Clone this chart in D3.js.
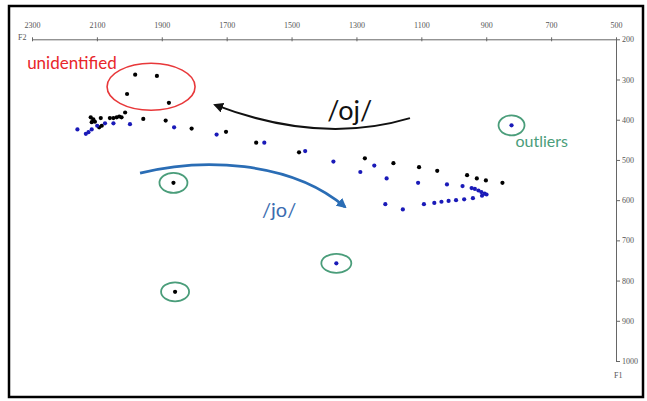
<!DOCTYPE html>
<html>
<head>
<meta charset="utf-8">
<script src="https://cdn.jsdelivr.net/npm/d3@7"></script>
<style>
  html, body { margin: 0; padding: 0; background: #fff; }
  svg { display: block; }
</style>
</head>
<body>
<svg id="chart" width="647" height="401"></svg>
<script>
// ---------- DATA ----------
const f2Ticks = [2300, 2100, 1900, 1700, 1500, 1300, 1100, 900, 700, 500];
const f1Ticks = [200, 300, 400, 500, 600, 700, 800, 900, 1000];

// /oj/ tokens (black): [F2, F1]
const ojF2 = [1982, 1915, 2007, 1878, 2119, 2111, 2088, 2116, 2106, 2085, 2093, 2060, 2049, 2039, 2031, 2024, 2013, 1957, 1888, 1808, 1702, 1609, 1477, 1274, 1186, 1107, 1051, 959, 929, 901, 850, 1864, 1859];
const ojF1 = [288, 291, 336, 358, 394, 399, 396, 406, 405, 415, 419, 396, 396, 394, 392, 394, 382, 398, 402, 422, 430, 457, 481, 496, 508, 518, 527, 538, 546, 551, 557, 557, 828];

// /jo/ tokens (blue): [F2, F1]
const joF2 = [2160, 2134, 2126, 2116, 2099, 2075, 2049, 1998, 1862, 1731, 1584, 1458, 1371, 1288, 1245, 1207, 1110, 1021, 973, 1211, 1157, 1092, 1060, 1038, 1016, 993, 968, 941, 945, 935, 924, 915, 905, 899, 913, 1362, 822];
const joF1 = [424, 435, 431, 424, 415, 409, 409, 411, 419, 437, 457, 478, 504, 530, 514, 546, 557, 561, 565, 610, 623, 610, 607, 604, 602, 600, 598, 595, 570, 572, 576, 580, 584, 586, 589, 757, 414];

// outlier tokens (circled), and the unidentified region
const outlierF2 = [1864, 1859, 1362, 822];
const outlierF1 = [557, 828, 757, 414];
const unidentifiedCenter = [1933, 318];

// annotation arrows (in F2/F1 units)
const ojArrow = [[1135, 396], [1412, 463], [1736, 363]];
const joArrow = [[1967, 533], [1782, 495], [1505, 500], [1335, 617]];

// ---------- SCALES ----------
const svg = d3.select("#chart");
const x = d3.scaleLinear().domain([2300, 500]).range([32, 616]);
const y = d3.scaleLinear().domain([200, 1000]).range([39.3, 361]);

// frame
svg.append("rect").attr("x", 9).attr("y", 6).attr("width", 634).attr("height", 391)
  .attr("fill", "#fff").attr("stroke", "#000").attr("stroke-width", 2.5);

// ---------- AXES ----------
const axisColor = "#666";
const tickFont = "'Liberation Serif', 'DejaVu Serif', serif";
const fmt = d3.format("d");

const topAxis = svg.append("g").attr("transform", `translate(0,${y(200)})`).attr("color", axisColor)
  .call(d3.axisTop(x).tickValues(f2Ticks).tickFormat(fmt).tickSize(3).tickSizeOuter(0).tickPadding(8));
topAxis.selectAll(".tick line").attr("y2", 2).attr("y1", -2);
topAxis.selectAll(".tick text").attr("font-family", tickFont).attr("font-size", 8).attr("fill", "#555");

const rightAxis = svg.append("g").attr("transform", `translate(${x(500)},0)`).attr("color", axisColor)
  .call(d3.axisRight(y).tickValues(f1Ticks).tickFormat(fmt).tickSize(4).tickSizeOuter(0).tickPadding(2));
rightAxis.selectAll(".tick text").attr("font-family", tickFont).attr("font-size", 8).attr("fill", "#555");

svg.append("text").attr("x", x(2300) - 14).attr("y", y(200) + 1).text("F2")
  .attr("font-family", tickFont).attr("font-size", 8).attr("fill", "#555");
svg.append("text").attr("x", x(500) - 2).attr("y", y(1000) + 17).text("F1")
  .attr("font-family", tickFont).attr("font-size", 8).attr("fill", "#555");

// ---------- ANNOTATION SHAPES ----------
const green = "#4a9d7a";
const ellR = [[14, 10], [14, 9.5], [15, 9.5], [13, 10]];
svg.append("g").selectAll("ellipse").data(outlierF2).join("ellipse")
  .attr("cx", (d, i) => x(d)).attr("cy", (d, i) => y(outlierF1[i]))
  .attr("rx", (d, i) => ellR[i][0]).attr("ry", (d, i) => ellR[i][1])
  .attr("fill", "none").attr("stroke", green).attr("stroke-width", 1.8);

svg.append("ellipse").attr("cx", x(unidentifiedCenter[0])).attr("cy", y(unidentifiedCenter[1]))
  .attr("rx", 44).attr("ry", 23.5).attr("fill", "none").attr("stroke", "#e8383a").attr("stroke-width", 1.6);

// ---------- POINTS ----------
svg.append("g").selectAll("circle").data(ojF2).join("circle")
  .attr("cx", d => x(d)).attr("cy", (d, i) => y(ojF1[i])).attr("r", 2.1).attr("fill", "#000");
svg.append("g").selectAll("circle").data(joF2).join("circle")
  .attr("cx", d => x(d)).attr("cy", (d, i) => y(joF1[i])).attr("r", 2.1).attr("fill", "#1a1ab8");

// ---------- ARROWS ----------
const defs = svg.append("defs");
defs.append("marker").attr("id", "hBlack").attr("viewBox", "0 0 10 10").attr("refX", 8).attr("refY", 5)
  .attr("markerWidth", 5).attr("markerHeight", 5).attr("orient", "auto").attr("markerUnits", "strokeWidth")
  .append("path").attr("d", "M0,0 L10,5 L0,10 Z").attr("fill", "#111");
defs.append("marker").attr("id", "hBlue").attr("viewBox", "0 0 10 10").attr("refX", 8).attr("refY", 5)
  .attr("markerWidth", 3.6).attr("markerHeight", 3.6).attr("orient", "auto").attr("markerUnits", "strokeWidth")
  .append("path").attr("d", "M0,0 L10,5 L0,10 Z").attr("fill", "#2a6db5");

const oa = ojArrow.map(p => [x(p[0]), y(p[1])]);
svg.append("path").attr("d", `M${oa[0]} Q${oa[1]} ${oa[2]}`)
  .attr("fill", "none").attr("stroke", "#111").attr("stroke-width", 2).attr("marker-end", "url(#hBlack)");

const ja = joArrow.map(p => [x(p[0]), y(p[1])]);
svg.append("path").attr("d", `M${ja[0]} C${ja[1]} ${ja[2]} ${ja[3]}`)
  .attr("fill", "none").attr("stroke", "#2a6db5").attr("stroke-width", 2.8).attr("marker-end", "url(#hBlue)");

// ---------- TEXT LABELS ----------
const labFont = "Lato, 'Open Sans', sans-serif";
svg.append("text").attr("x", x(2315)).attr("y", y(274)).text("unidentified")
  .attr("font-family", labFont).attr("font-size", 17).attr("fill", "#e8262a");
svg.append("text").attr("x", x(1390)).attr("y", y(400)).text("/oj/")
  .attr("font-family", labFont).attr("font-size", 27).attr("fill", "#111");
svg.append("text").attr("x", x(1591)).attr("y", y(643)).text("/jo/")
  .attr("font-family", labFont).attr("font-size", 20).attr("fill", "#3b6db0");
svg.append("text").attr("x", x(810)).attr("y", y(469)).text("outliers")
  .attr("font-family", labFont).attr("font-size", 16).attr("fill", green);
</script>
</body>
</html>
